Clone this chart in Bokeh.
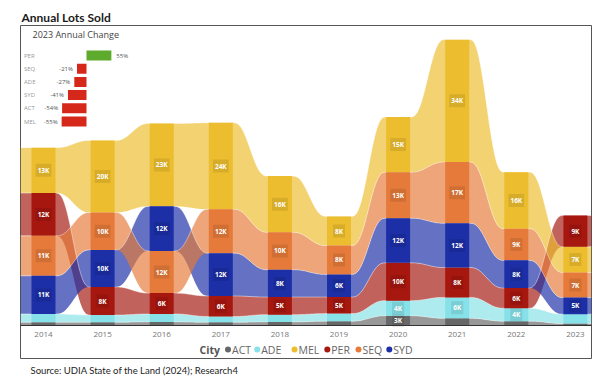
import numpy as np
from bokeh.plotting import figure
from bokeh.models import ColumnDataSource, Range1d, LinearAxis, FixedTicker, Title
from bokeh.core.properties import value
from bokeh.embed import file_html
from bokeh.resources import INLINE

# ---------------- data (thousand lots) ----------------
years = [2014, 2015, 2016, 2017, 2018, 2019, 2020, 2021, 2022, 2023]
cities = ["ACT", "ADE", "MEL", "PER", "SEQ", "SYD"]
act = [0.9, 0.9, 1.0, 0.9, 1.0, 1.2, 2.7, 2.0, 1.2, 0.55]
ade = [2.3, 2.0, 2.2, 1.6, 2.0, 2.1, 4.2, 5.8, 3.6, 2.6]
mel = [12.6, 20.0, 23.0, 24.0, 15.6, 8.1, 15.3, 34.0, 15.7, 7.1]
per = [11.9, 7.8, 5.8, 5.7, 4.9, 4.6, 10.5, 8.3, 5.6, 8.7]
seq = [11.1, 10.4, 11.7, 12.2, 10.4, 8.0, 12.8, 17.0, 8.8, 7.0]
syd = [10.6, 10.3, 12.4, 11.9, 7.6, 6.3, 12.4, 12.3, 7.7, 4.6]

change_cities = ["PER", "SEQ", "ADE", "SYD", "ACT", "MEL"]
change_pct = [55, -21, -27, -41, -54, -55]

series = {"ACT": act, "ADE": ade, "MEL": mel, "PER": per, "SEQ": seq, "SYD": syd}
colors = {"ACT": "#676767", "ADE": "#86E2E8", "MEL": "#ECBD2E",
          "PER": "#A5170F", "SEQ": "#E57A3A", "SYD": "#1C2FA6"}

# ---------------- geometry helpers ----------------
FRAME_L, FRAME_T, FRAME_W, FRAME_H = 20, 25, 571, 333
PX_PER_YEAR = 59.1
PX_PER_K = 3.6
BASE_PX = 325
X0 = years[0] - (43 - FRAME_L) / PX_PER_YEAR
X1 = X0 + FRAME_W / PX_PER_YEAR
Y1 = (BASE_PX - FRAME_T) / PX_PER_K
Y0 = Y1 - FRAME_H / PX_PER_K


def fx(px):  # layout helper for decorations only
    return X0 + (px - FRAME_L) / PX_PER_YEAR


def fy(py):
    return (BASE_PX - py) / PX_PER_K


# ---------------- stacking (largest on top) ----------------
n = len(years)
lo = {c: [0.0] * n for c in cities}
hi = {c: [0.0] * n for c in cities}
for j in range(n):
    order = sorted(cities, key=lambda c: series[c][j])
    base = 0.0
    for c in order:
        lo[c][j] = base
        base += series[c][j]
        hi[c][j] = base

hw = 12 / PX_PER_YEAR  # half column width


def smooth(t):
    return t * t * t * (t * (6 * t - 15) + 10)


def ribbon(c):
    xs, l, h = [X0], [lo[c][0]], [hi[c][0]]
    for j in range(n):
        xs += [years[j] - hw, years[j] + hw]
        l += [lo[c][j]] * 2
        h += [hi[c][j]] * 2
        if j < n - 1:
            t = np.linspace(0, 1, 40)[1:-1]
            s = smooth(t)
            xa = years[j] + hw + t * (1 - 2 * hw)
            xs += list(xa)
            l += list(lo[c][j] + (lo[c][j + 1] - lo[c][j]) * s)
            h += list(hi[c][j] + (hi[c][j + 1] - hi[c][j]) * s)
    xs.append(X1)
    l.append(lo[c][-1])
    h.append(hi[c][-1])
    return xs, l, h


p = figure(frame_width=FRAME_W, frame_height=FRAME_H,
           min_border_left=FRAME_L, min_border_right=594 - FRAME_L - FRAME_W,
           min_border_top=FRAME_T, min_border_bottom=384 - FRAME_T - FRAME_H,
           x_range=Range1d(X0, X1), y_range=Range1d(Y0, Y1),
           x_axis_location=None, y_axis_location=None,
           output_backend="svg", toolbar_location=None)
p.grid.visible = False
p.outline_line_color = "#555555"
p.outline_line_width = 1
p.background_fill_color = "white"
p.border_fill_color = "white"

p.title.text = "Annual Lots Sold"
p.title.text_font = "Lato"
p.title.text_font_size = "12px"
p.title.text_font_style = "bold"
p.title.text_color = "#1a1a1a"
p.title.vertical_align = "middle"
p.title.standoff = 0
p.title.offset = 1

# ribbons
draw_order = ["ACT", "ADE", "PER", "SYD", "SEQ", "MEL"]
for c in draw_order:
    xs, l, h = ribbon(c)
    p.varea(x=xs, y1=l, y2=h, fill_color=colors[c], fill_alpha=0.68)
for c in draw_order:
    xs, l, h = ribbon(c)
    p.line(x=xs, y=h, line_color="white", line_alpha=0.55, line_width=0.8)

# columns
qs = {"left": [], "right": [], "bottom": [], "top": [], "color": []}
lab = {"x": [], "y": [], "text": []}
for c in cities:
    for j in range(n):
        qs["left"].append(years[j] - hw)
        qs["right"].append(years[j] + hw)
        qs["bottom"].append(lo[c][j])
        qs["top"].append(hi[c][j])
        qs["color"].append(colors[c])
        v = series[c][j]
        if v >= 2.7:
            lab["x"].append(years[j])
            lab["y"].append((lo[c][j] + hi[c][j]) / 2)
            lab["text"].append(f"{round(v)}K")
p.quad(source=ColumnDataSource(qs), left="left", right="right", bottom="bottom",
       top="top", fill_color="color", line_color=None)
p.text(source=ColumnDataSource(lab), x="x", y="y", text="text",
       text_align="center", text_baseline="middle", text_color="white",
       text_font=value("Open Sans"), text_font_size="6.5px", text_font_style="bold",
       background_fill_color="black", background_fill_alpha=0.09, padding=2)

# x axis at baseline
xaxis = LinearAxis(fixed_location=0, ticker=FixedTicker(ticks=years))
xaxis.major_tick_line_color = None
xaxis.minor_tick_line_color = None
xaxis.axis_line_color = "#333333"
xaxis.axis_line_width = 1
xaxis.major_label_text_font = "Open Sans"
xaxis.major_label_text_font_size = "8px"
xaxis.major_label_text_color = "#777777"
xaxis.major_label_standoff = 0
p.add_layout(xaxis, "below")

# ---------------- inset: 2023 annual change ----------------
ZERO_PX, PX_PER_PCT = 86, 0.452
ROW0_PX, ROW_PX = 55, 13.2
cx0 = -(ZERO_PX - FRAME_L) / PX_PER_PCT
cy1 = (ROW0_PX - FRAME_T) / ROW_PX
p.extra_x_ranges = {"chg": Range1d(cx0, cx0 + FRAME_W / PX_PER_PCT)}
p.extra_y_ranges = {"chgy": Range1d(cy1 - FRAME_H / ROW_PX, cy1)}


def cx(px):
    return (px - ZERO_PX) / PX_PER_PCT


def cy(py):
    return -(py - ROW0_PX) / ROW_PX


ypos = [-k for k in range(len(change_cities))]
left = [min(0, v) for v in change_pct]
right = [max(0, v) for v in change_pct]
bcol = ["#5DAA2C" if v > 0 else "#D6281A" for v in change_pct]
p.hbar(y=ypos, left=left, right=right, height=0.76, fill_color=bcol,
       line_color=None, x_range_name="chg", y_range_name="chgy")
p.text(x=[cx(23.5)] * len(ypos), y=ypos, text=change_cities, x_range_name="chg",
       y_range_name="chgy", text_align="left", text_baseline="middle",
       text_font=value("Open Sans"), text_font_size="6px", text_color="#999999")
pos = [i for i, v in enumerate(change_pct) if v > 0]
neg = [i for i, v in enumerate(change_pct) if v <= 0]
p.text(x=[change_pct[i] for i in pos], y=[ypos[i] for i in pos],
       text=[f"{change_pct[i]}%" for i in pos], x_offset=5,
       x_range_name="chg", y_range_name="chgy", text_align="left",
       text_baseline="middle", text_font=value("Open Sans"),
       text_font_size="6px", text_color="#555555")
p.text(x=[change_pct[i] for i in neg], y=[ypos[i] for i in neg],
       text=[f"{change_pct[i]}%" for i in neg], x_offset=-4,
       x_range_name="chg", y_range_name="chgy", text_align="right",
       text_baseline="middle", text_font=value("Open Sans"),
       text_font_size="6px", text_color="#555555")
p.text(x=[cx(32)], y=[cy(34)], text=["2023 Annual Change"], x_range_name="chg",
       y_range_name="chgy", text_align="left", text_baseline="middle",
       text_font=value("Open Sans"), text_font_size="9px", text_color="#444444")

# ---------------- legend (drawn as keys + labels) ----------------
LEG_Y = 349
key_px = [227.5, 256.7, 294, 326.8, 358, 388.8]
p.text(x=[fx(199)], y=[fy(LEG_Y)], text=["City"], text_align="left",
       text_baseline="middle", text_font=value("Open Sans"),
       text_font_size="10.5px", text_font_style="bold", text_color="#555555")
p.scatter(x=[fx(k) for k in key_px], y=[fy(LEG_Y)] * len(cities), marker="circle",
          size=6, fill_color=[colors[c] for c in cities], line_color=None)
p.text(x=[fx(k + 4) for k in key_px], y=[fy(LEG_Y)] * len(cities), text=cities,
       text_align="left", text_baseline="middle", text_font=value("Open Sans"),
       text_font_size="10.5px", text_color="#666666")

src = Title(text="Source: UDIA State of the Land (2024); Research4", align="left",
            text_font="Lato", text_font_size="9.5px", text_font_style="normal",
            text_color="#222222", offset=10, standoff=9)
p.add_layout(src, "below")

open("out.html", "w").write(file_html(p, INLINE))
